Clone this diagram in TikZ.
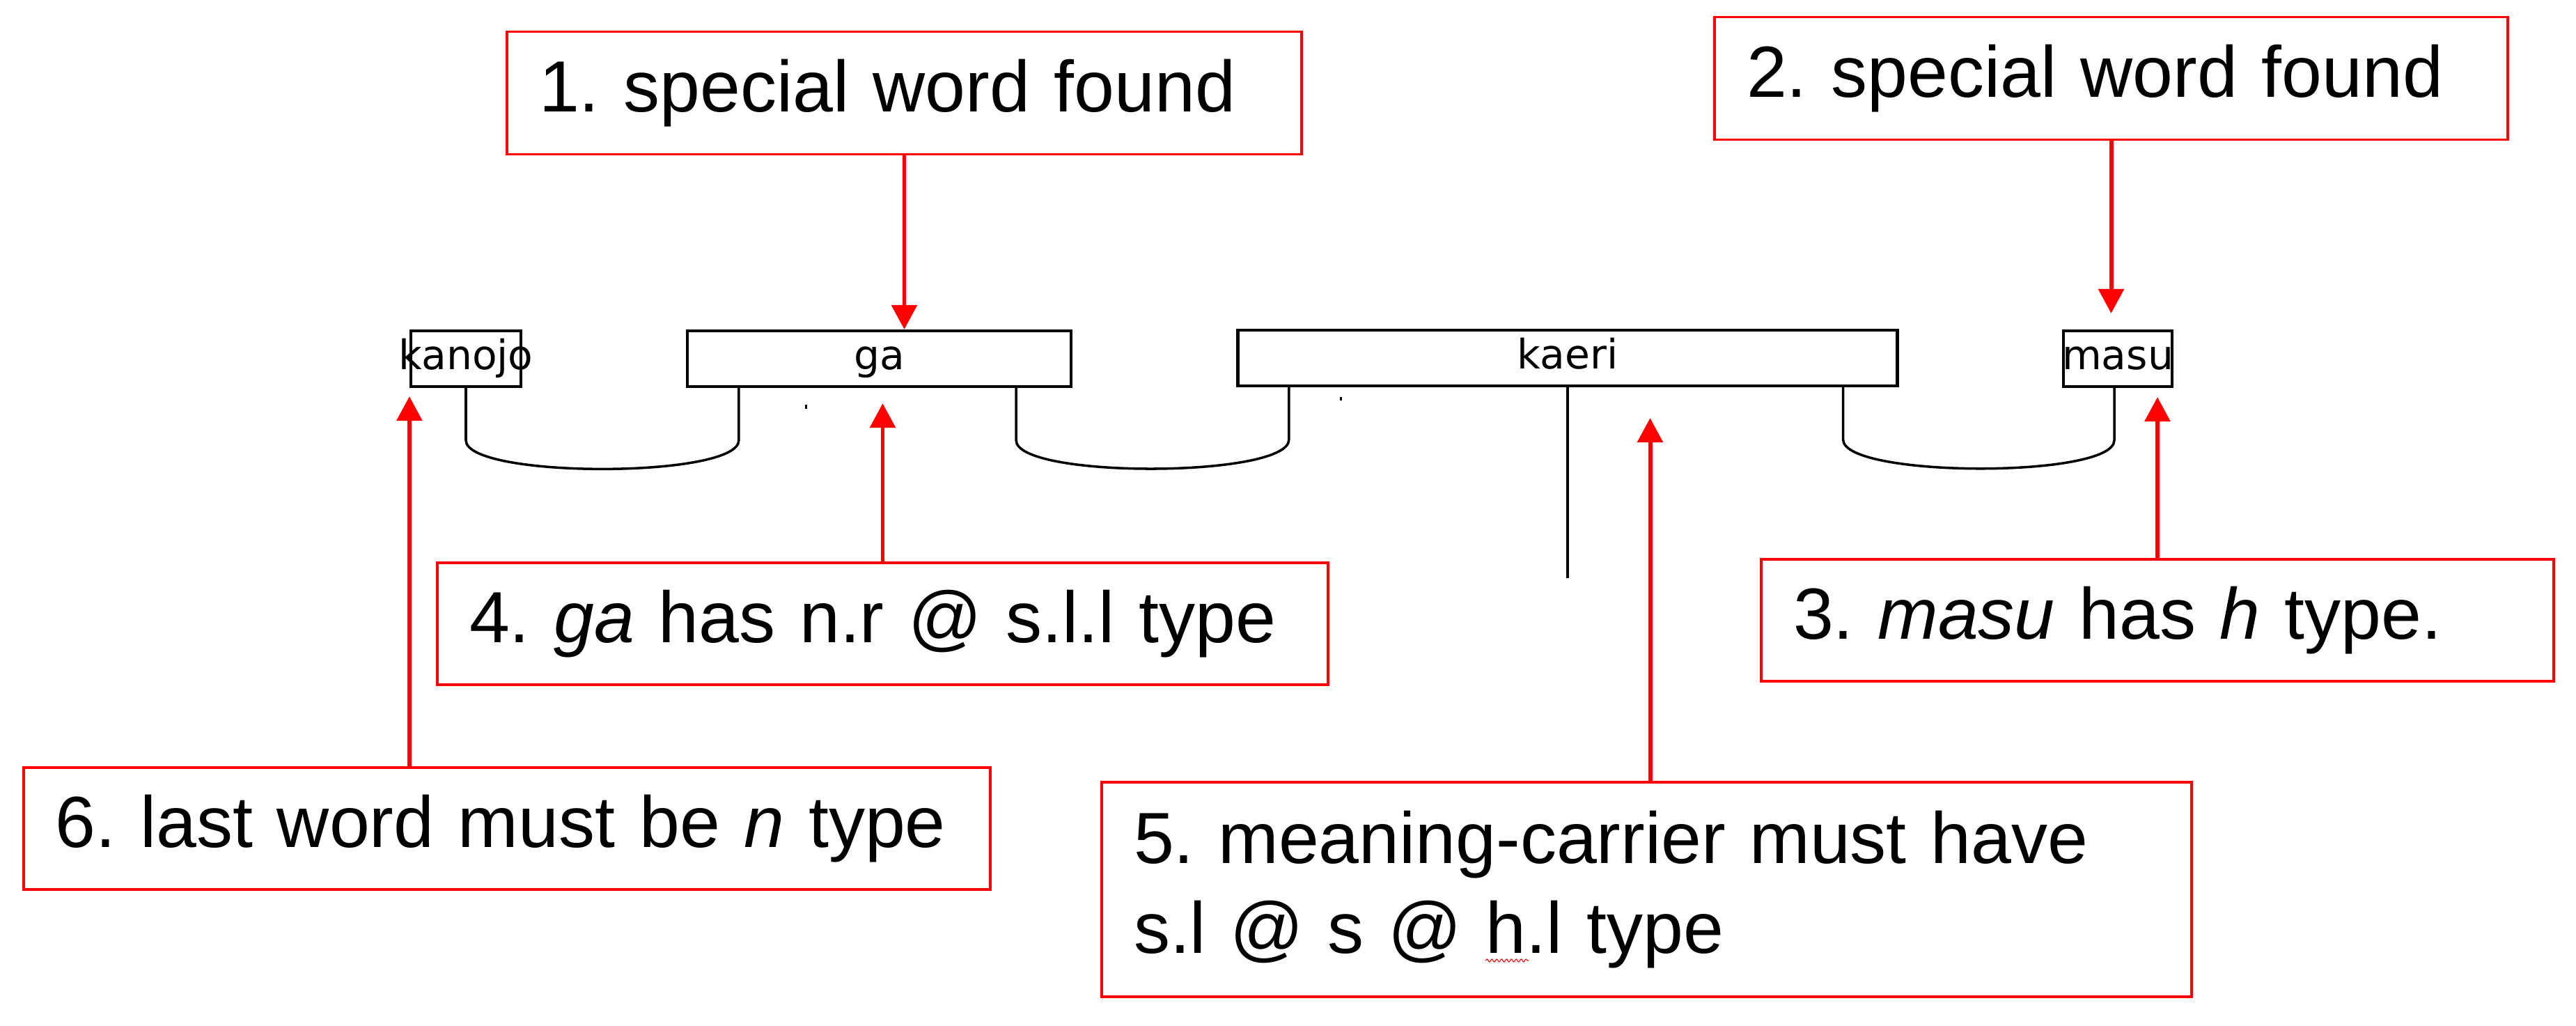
\documentclass[tikz,border=0pt]{standalone}
\usepackage{fontspec}
\setmainfont{Liberation Sans}
\newfontfamily\wordfont{DejaVu Sans}
\usetikzlibrary{arrows.meta,decorations.pathmorphing}
\frenchspacing

\tikzset{
    note/.style={draw=red,line width=1pt,rectangle,align=left,inner xsep=0.46cm,inner ysep=0pt,minimum height=1.76cm,font=\fontsize{29.6pt}{36.7pt}\selectfont},
    word/.style={draw,line width=1.2pt,rectangle,inner sep=0pt,minimum height=0.80cm,text height=0.44cm,text depth=0.12cm,font=\wordfont\fontsize{16.6pt}{19pt}\selectfont},
    link/.style={line width=1pt},
    dip/.style={out=-90,in=-90,looseness=0.36},
    pointer/.style={red,line width=1.7pt,-{Triangle[width=0.36cm,length=0.35cm]}},
}

\begin{document}
\begin{tikzpicture}
    \useasboundingbox (0,0) rectangle (36.99,-14.73);
    %% Words
    \node[word,minimum width=1.58cm] (kanojo) at (6.69,-5.15) {\makebox[0pt]{kanojo}};
    \node[word,minimum width=5.51cm] (ga) at (12.625,-5.15) {ga};
    \node[word,minimum width=9.47cm] (kaeri) at (22.51,-5.14) {kaeri};
    \node[word,minimum width=1.565cm] (masu) at (30.41,-5.15) {\makebox[0pt]{masu}};
    %% Links between words
    \draw[link] (kanojo.south) -- ++(0,-0.75) to[dip] ([xshift=0.76cm,yshift=-0.75cm]ga.south west) -- ([xshift=0.76cm]ga.south west);
    \draw[link] ([xshift=-0.81cm]ga.south east) -- ++(0,-0.75) to[dip] ([xshift=0.755cm,yshift=-0.75cm]kaeri.south west) -- ([xshift=0.755cm]kaeri.south west);
    \draw[link] ([xshift=-0.80cm]kaeri.south east) -- ++(0,-0.75) to[dip] ([xshift=-0.05cm,yshift=-0.75cm]masu.south) -- ([xshift=-0.05cm]masu.south);
    \draw[link] (kaeri.south) -- ++(0,-2.74);
    %% Specks
    \fill (11.56,-5.81) rectangle (11.585,-5.87);
    \fill (19.24,-5.70) rectangle (19.265,-5.75);
    %% Notes
    \node[note,text width=10.49cm] (n1) at (12.985,-1.335) {1. special word found};
    \node[note,text width=10.47cm] (n2) at (30.315,-1.125) {2. special word found};
    \node[note,text width=10.46cm,minimum height=1.75cm] (n3) at (30.98,-8.905) {3. \textit{masu} has \textit{h} type.};
    \node[note,text width=11.87cm,minimum height=1.75cm] (n4) at (12.675,-8.955) {4. \textit{ga} has n.r @ s.l.l type};
    \node[note,text width=14.73cm,minimum height=3.08cm] (n5) at (23.645,-12.77) {5. meaning-carrier must have\\s.l @ s @ h.l type};
    \node[note,text width=12.96cm,minimum height=1.75cm] (n6) at (7.28,-11.895) {6. last word must be \textit{n} type};
    %% Spelling mark
    \draw[red,line width=0.3pt,decorate,decoration={snake,amplitude=0.02cm,segment length=0.07cm}] (21.33,-13.79) -- (21.95,-13.79);
    %% Pointers
    \draw[pointer] (n1.south) -- (n1.south |- ga.north);
    \draw[pointer] (n2.south) -- ([yshift=0.23cm]n2.south |- masu.north);
    \draw[pointer] (n3.north) -- ([yshift=-0.13cm]n3.north |- masu.south);
    \draw[pointer] (n4.north) -- ([yshift=-0.22cm]n4.north |- ga.south);
    \draw[pointer] ([xshift=0.05cm]n5.north) -- ([xshift=0.05cm,yshift=-0.44cm]n5.north |- kaeri.south);
    \draw[pointer] (n6.north -| kanojo.south west) -- ([yshift=-0.12cm]kanojo.south west);
\end{tikzpicture}
\end{document}
